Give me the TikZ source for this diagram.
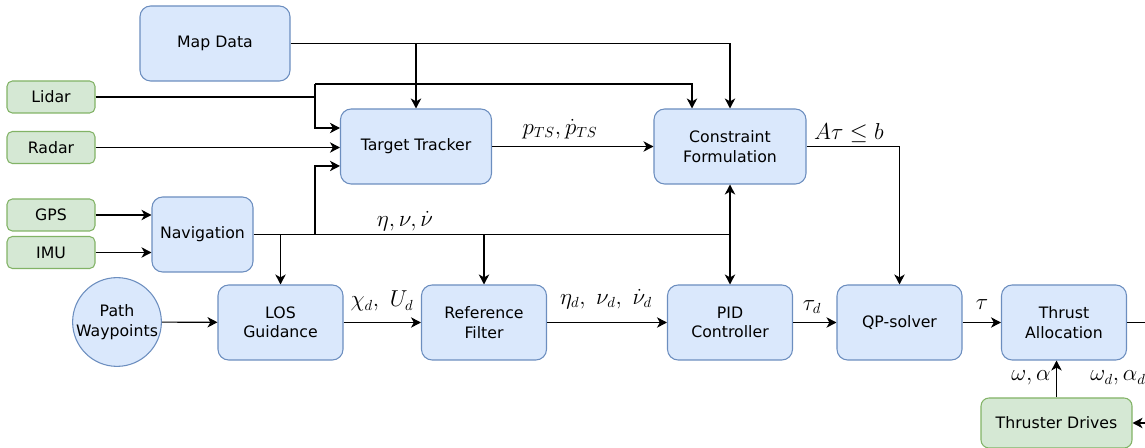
\documentclass[tikz,border=0pt]{standalone}
\usepackage{fontspec}
\setmainfont{DejaVu Sans}
\usetikzlibrary{arrows.meta}
\definecolor{bfill}{HTML}{DAE8FC}
\definecolor{bdraw}{HTML}{6C8EBF}
\definecolor{gfill}{HTML}{D5E8D4}
\definecolor{gdraw}{HTML}{82B366}
\tikzset{
  blk/.style={draw=bdraw, fill=bfill, line width=0.8pt, rounded corners=8pt, align=center,
    inner sep=0pt, minimum height=56.25pt, font=\fontsize{11.8}{14.5}\selectfont},
  sens/.style={draw=gdraw, fill=gfill, line width=0.8pt, rounded corners=4pt, align=center,
    inner sep=0pt, minimum width=66pt, minimum height=24pt, font=\fontsize{11.8}{14.5}\selectfont},
  circ/.style={draw=bdraw, fill=bfill, line width=0.8pt, circle, align=center,
    inner sep=0pt, minimum size=66pt, font=\fontsize{11.8}{14.5}\selectfont},
  conn/.style={line width=0.85pt, draw=black},
  tip/.tip={Stealth[length=7.5pt,width=7.8pt,inset=2.2pt]},
  arr/.style={conn, -tip},
  darr/.style={conn, tip-tip},
  lab/.style={inner sep=0pt, font=\fontsize{16}{19}\selectfont}
}
\begin{document}
\begin{tikzpicture}[x=0.75pt,y=-0.75pt]
\useasboundingbox (0,0) rectangle (1145,448);
% nodes
\node[blk, minimum width=112.5pt] (map) at (215,43.5) {Map Data};
\node[sens] (lidar) at (51,97) {Lidar};
\node[sens] (radar) at (51,147.5) {Radar};
\node[sens] (gps) at (51,215) {GPS};
\node[sens] (imu) at (51,252.5) {IMU};
\node[blk, minimum width=75.75pt] (nav) at (202.5,234.5) {Navigation};
\node[blk, minimum width=113.25pt] (tracker) at (416,146.5) {Target Tracker};
\node[blk, minimum width=114pt] (constr) at (730,146.5) {Constraint\\Formulation};
\node[circ] (wp) at (117,322) {Path\\Waypoints};
\node[blk, minimum width=93.75pt] (los) at (280.5,322.5) {LOS\\Guidance};
\node[blk, minimum width=93.75pt] (ref) at (484,322.5) {Reference\\Filter};
\node[blk, minimum width=93.75pt] (pid) at (730,322.5) {PID\\Controller};
\node[blk, minimum width=93.75pt] (qp) at (899.5,322.5) {QP-solver};
\node[blk, minimum width=93.75pt] (alloc) at (1064,322.5) {Thrust\\Allocation};
\node[sens, minimum width=113.25pt, minimum height=37.5pt, rounded corners=6pt] (drives) at (1056.5,423) {Thruster Drives};
% junction coordinates
\coordinate (jL) at (315,97);
\coordinate (jT) at (315,84);
\coordinate (jB) at (315,128);
\coordinate (jN) at (315,234.5);
\coordinate (jC) at (692,84);
\coordinate (nE) at (730,234.5);
\coordinate (outR) at (1150,322.5);
\coordinate (inR) at (1150,423);
% map data
\draw[arr] (map.east) -| (constr.north);
\draw[arr] (map.east -| tracker.north) -- (tracker.north);
% lidar
\draw[conn] (lidar.east) -- (jL);
\draw[arr] (jT) -- (jB) -- (jB -| tracker.west);
\draw[arr] (jT) -- (jC) -- (jC |- constr.north);
% radar
\draw[arr] (radar.east) -- (radar.east -| tracker.west);
% gps / imu
\draw[arr] (gps.east) -- (gps.east -| nav.west);
\draw[arr] (imu.east) -- (imu.east -| nav.west);
% navigation bus
\draw[conn] (nav.east) -- (nE);
\draw[arr] (jN) |- ([yshift=-14.6pt]tracker.west);
\draw[arr] (nav.east -| los.north) -- (los.north);
\draw[arr] (nav.east -| ref.north) -- (ref.north);
\draw[darr] (constr.south) -- (pid.north);
\node[lab] (lnav) at (405,221) {$\eta,\nu,\dot\nu$};
% tracker -> constraint
\draw[arr] (tracker.east) -- (constr.west);
\node[lab] (lpts) at (560,129) {$p_{TS},\dot p_{TS}$};
% constraint -> qp
\draw[arr] (constr.east) -| (qp.north);
\node[lab] (lab) at (849,133) {$A\tau\leq b$};
% main chain
\draw[arr] (wp) -- (los);
\draw[arr] (los) -- (ref);
\node[lab] (lchi) at (382,301) {$\chi_d,\ U_d$};
\draw[arr] (ref) -- (pid);
\node[lab] (leta) at (606,299) {$\eta_d,\ \nu_d,\ \dot\nu_d$};
\draw[arr] (pid) -- (qp);
\node[lab] (ltaud) at (812,307) {$\tau_d$};
\draw[arr] (qp) -- (alloc);
\node[lab] (ltau) at (982,305) {$\tau$};
% thrust allocation / drives
\draw[conn] (alloc.east) -- (outR);
\draw[arr] (inR) -- (drives.east);
\draw[arr] (drives.north) -- (drives.north |- alloc.south);
\node[lab] (lwa) at (1031,378) {$\omega,\alpha$};
\node[lab] (lwad) at (1118,378) {$\omega_d,\alpha_d$};
\end{tikzpicture}
\end{document}
